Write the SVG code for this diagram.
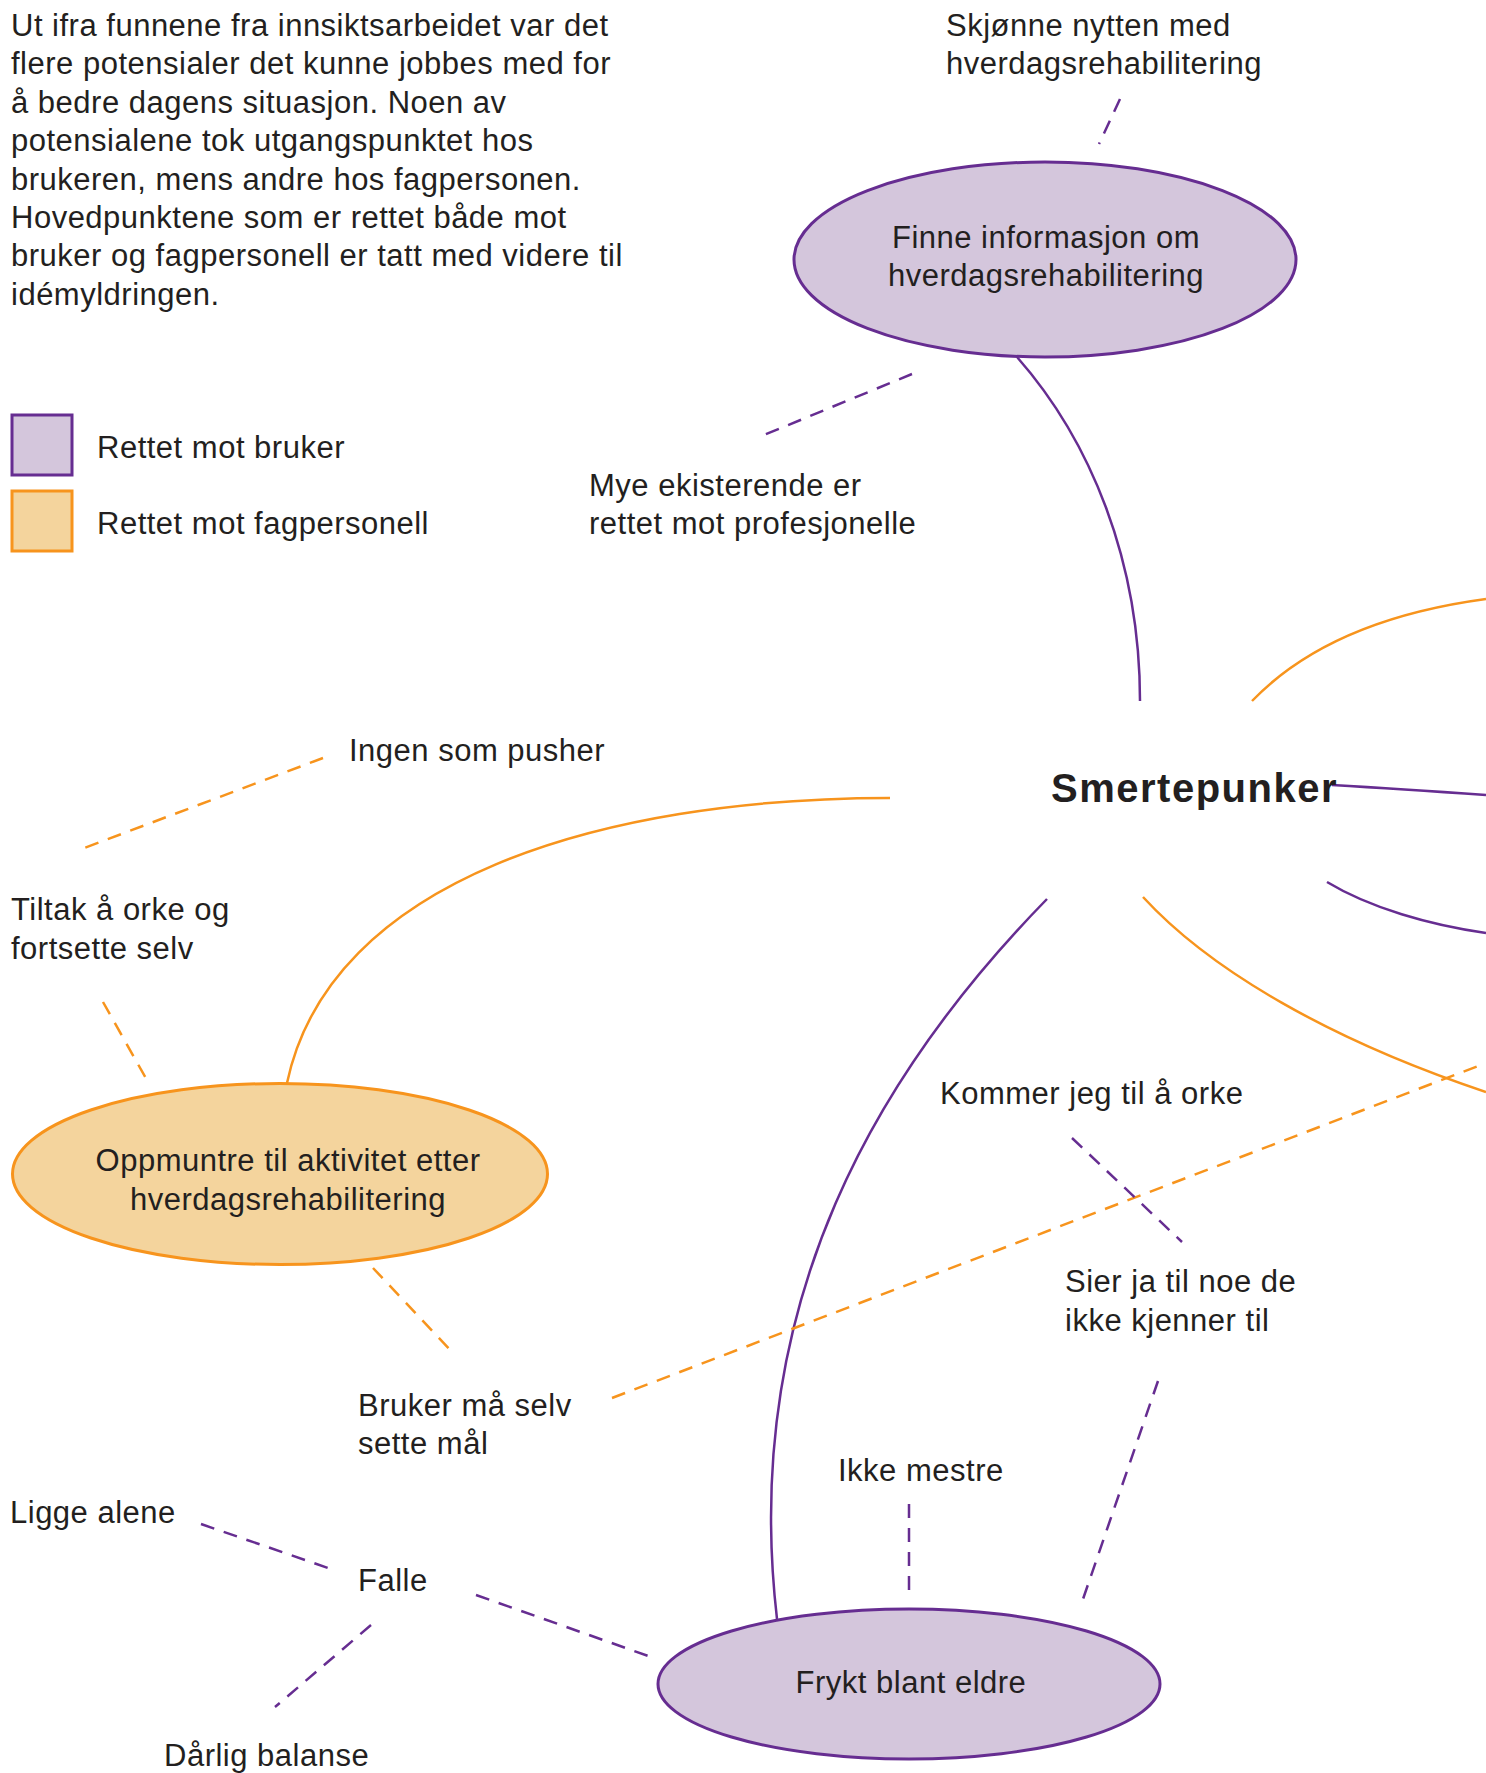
<svg xmlns="http://www.w3.org/2000/svg" width="1486" height="1773" viewBox="0 0 1486 1773">
  <style>
    text { font-family: "Liberation Sans", Arial, sans-serif; font-size: 31px; letter-spacing: 0.5px; fill: #231f20; }
    .title { font-weight: bold; font-size: 40px; letter-spacing: 1.5px; }
    .mid { text-anchor: middle; }
    .user { fill: #d4c6dc; stroke: #662d91; stroke-width: 3; }
    .pro { fill: #f4d49d; stroke: #f7941d; stroke-width: 3; }
    .link-u { fill: none; stroke: #662d91; stroke-width: 2.5; }
    .link-p { fill: none; stroke: #f7941d; stroke-width: 2.5; }
    .dash { stroke-dasharray: 14 10; }
  </style>

  <!-- introduction -->
  <g id="intro">
    <text x="11" y="36">Ut ifra funnene fra innsiktsarbeidet var det</text>
    <text x="11" y="74.4">flere potensialer det kunne jobbes med for</text>
    <text x="11" y="112.8">å bedre dagens situasjon. Noen av</text>
    <text x="11" y="151.2">potensialene tok utgangspunktet hos</text>
    <text x="11" y="189.6">brukeren, mens andre hos fagpersonen.</text>
    <text x="11" y="228">Hovedpunktene som er rettet både mot</text>
    <text x="11" y="266.4">bruker og fagpersonell er tatt med videre til</text>
    <text x="11" y="304.8">idémyldringen.</text>
  </g>

  <!-- legend -->
  <g id="legend">
    <rect class="user" x="12" y="415" width="60" height="60"/>
    <text x="97" y="458">Rettet mot bruker</text>
    <rect class="pro" x="12" y="491" width="60" height="60"/>
    <text x="97" y="534">Rettet mot fagpersonell</text>
  </g>

  <!-- connectors -->
  <g id="connectors">
    <!-- main branches from the centre -->
    <path class="link-u" d="M1017,357 C1090,440 1140,560 1140,701"/>
    <path class="link-p" d="M1252,701 Q1330,620 1486,599"/>
    <path class="link-u" d="M1332,785 Q1400,789 1486,795"/>
    <path class="link-u" d="M1327,882 C1370,908 1430,925 1486,933"/>
    <path class="link-p" d="M1143,897 C1210,970 1330,1040 1486,1092"/>
    <path class="link-u" d="M1047,899 C880,1070 740,1300 777,1619"/>
    <path class="link-p" d="M890,798 C600,798 330,880 287,1083"/>

    <!-- sub-points -->
    <line class="link-u dash" x1="1120" y1="99" x2="1099" y2="144"/>
    <line class="link-u dash" x1="912" y1="374" x2="764" y2="435"/>
    <line class="link-p dash" x1="323" y1="758" x2="79" y2="850"/>
    <line class="link-p dash" x1="103" y1="1002" x2="148" y2="1082"/>
    <line class="link-p dash" x1="373" y1="1268" x2="455" y2="1355"/>
    <line class="link-p dash" x1="612" y1="1398" x2="1486" y2="1063"/>
    <line class="link-u dash" x1="1072" y1="1138" x2="1182" y2="1242"/>
    <line class="link-u dash" x1="1158" y1="1381" x2="1082" y2="1602"/>
    <line class="link-u dash" x1="909" y1="1504" x2="909" y2="1592"/>
    <line class="link-u dash" x1="201" y1="1524" x2="331" y2="1569"/>
    <line class="link-u dash" x1="476" y1="1595" x2="654" y2="1658"/>
    <line class="link-u dash" x1="371" y1="1625" x2="275" y2="1707"/>
  </g>

  <!-- centre -->
  <g id="smertepunker">
    <text class="title" x="1051" y="802">Smertepunker</text>
  </g>

  <!-- main nodes -->
  <g id="finne-informasjon">
    <ellipse class="user" cx="1045" cy="259.5" rx="251" ry="97.5"/>
    <text class="mid" x="1046" y="248">Finne informasjon om</text>
    <text class="mid" x="1046" y="286">hverdagsrehabilitering</text>
  </g>

  <g id="oppmuntre">
    <ellipse class="pro" cx="280" cy="1174" rx="267.5" ry="90.5"/>
    <text class="mid" x="288" y="1171">Oppmuntre til aktivitet etter</text>
    <text class="mid" x="288" y="1210">hverdagsrehabilitering</text>
  </g>

  <g id="frykt">
    <ellipse class="user" cx="909" cy="1684" rx="251" ry="75"/>
    <text class="mid" x="911" y="1693">Frykt blant eldre</text>
  </g>

  <!-- sub-point labels -->
  <g id="skjonne-nytten">
    <text x="946" y="36">Skjønne nytten med</text>
    <text x="946" y="74.4">hverdagsrehabilitering</text>
  </g>
  <g id="mye-ekisterende">
    <text x="589" y="496">Mye ekisterende er</text>
    <text x="589" y="534">rettet mot profesjonelle</text>
  </g>
  <g id="ingen-som-pusher">
    <text x="349" y="761">Ingen som pusher</text>
  </g>
  <g id="tiltak">
    <text x="11" y="920">Tiltak å orke og</text>
    <text x="11" y="959">fortsette selv</text>
  </g>
  <g id="bruker-maal">
    <text x="358" y="1416">Bruker må selv</text>
    <text x="358" y="1454">sette mål</text>
  </g>
  <g id="kommer-jeg">
    <text x="940" y="1104">Kommer jeg til å orke</text>
  </g>
  <g id="sier-ja">
    <text x="1065" y="1292">Sier ja til noe de</text>
    <text x="1065" y="1331">ikke kjenner til</text>
  </g>
  <g id="ikke-mestre">
    <text x="838" y="1481">Ikke mestre</text>
  </g>
  <g id="ligge-alene">
    <text x="10" y="1523">Ligge alene</text>
  </g>
  <g id="falle">
    <text x="358" y="1591">Falle</text>
  </g>
  <g id="darlig-balanse">
    <text x="164" y="1766">Dårlig balanse</text>
  </g>
</svg>
